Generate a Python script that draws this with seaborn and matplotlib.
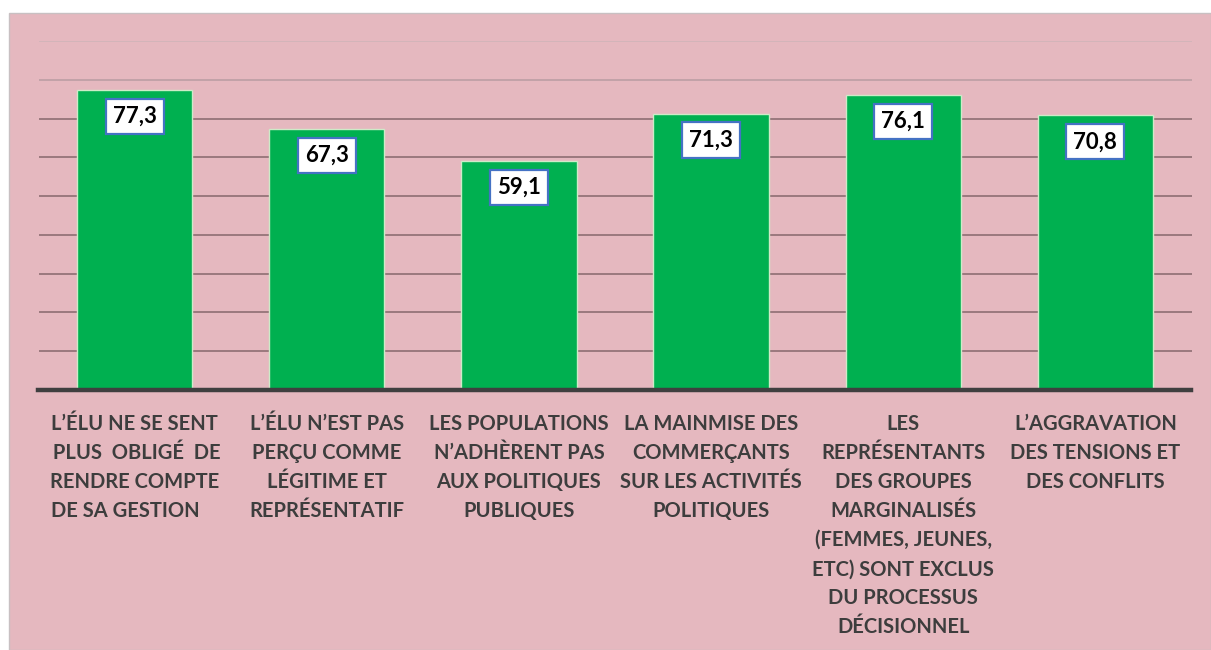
import matplotlib
matplotlib.use("Agg")
import matplotlib.pyplot as plt
import matplotlib.patches as mpatches
import seaborn as sns
import pandas as pd

categories = [
    "L’ÉLU NE SE SENT\n PLUS  OBLIGÉ  DE\nRENDRE COMPTE\nDE SA GESTION    ",
    "L’ÉLU N’EST PAS\nPERÇU COMME\nLÉGITIME ET\nREPRÉSENTATIF",
    "LES POPULATIONS\nN’ADHÈRENT PAS\nAUX POLITIQUES\nPUBLIQUES",
    "LA MAINMISE DES\nCOMMERÇANTS\nSUR LES ACTIVITÉS\nPOLITIQUES",
    "LES\nREPRÉSENTANTS\nDES GROUPES\nMARGINALISÉS\n(FEMMES, JEUNES,\nETC) SONT EXCLUS\nDU PROCESSUS\nDÉCISIONNEL",
    "L’AGGRAVATION\nDES TENSIONS ET\nDES CONFLITS",
]
values = [77.3, 67.3, 59.1, 71.3, 76.1, 70.8]
value_labels = ["77,3", "67,3", "59,1", "71,3", "76,1", "70,8"]
yticks = [0, 10, 20, 30, 40, 50, 60, 70, 80, 90]

sns.set_theme(style="white")
plt.rcParams["font.family"] = ["Lato", "DejaVu Sans"]

W, H = 1211, 650
fig = plt.figure(figsize=(W / 100, H / 100), dpi=100, facecolor="white")

# pink background panel
bg = mpatches.Rectangle((9 / W, 0), 1 - 9 / W, (H - 13) / H, transform=fig.transFigure,
                        facecolor="#E5B8BF", edgecolor="#C8C0C2", linewidth=1.0, zorder=-10)
fig.patches.append(bg)

ax = fig.add_axes([38.5 / W, (H - 390) / H, 1153 / W, (390 - 41) / H])
ax.set_facecolor("none")
ax.set_zorder(1)

df = pd.DataFrame({"cat": categories, "val": values})
sns.barplot(data=df, x="cat", y="val", color="#00B050", width=0.6, saturation=1,
            edgecolor="#CDEBC8", linewidth=1.0, ax=ax, zorder=3)

ax.set_ylim(0, 90)
ax.set_yticks(yticks)
ax.set_yticklabels([])
ax.tick_params(axis="y", length=0)
ax.tick_params(axis="x", length=0, pad=17)
ax.set_xlim(-0.5, len(categories) - 0.5)
ax.yaxis.grid(True, color="#957479", linewidth=1.3, zorder=1)
ax.set_axisbelow(True)
for gl, t in zip(ax.get_ygridlines(), yticks):
    if t == 90:
        gl.set_color("#D2B4B9")
    elif t == 80:
        gl.set_color("#BFA0A6")
    if t == 0:
        gl.set_visible(False)

for s in ["left", "right", "top"]:
    ax.spines[s].set_visible(False)
ax.spines["bottom"].set_color("#3F3F3F")
ax.spines["bottom"].set_linewidth(3.2)
ax.spines["bottom"].set_zorder(5)

ax.set_xlabel("")
ax.set_ylabel("")
for lab in ax.get_xticklabels():
    lab.set_fontsize(14.5)
    lab.set_fontweight("bold")
    lab.set_color("#3D3D3D")
    lab.set_linespacing(1.57)
    lab.set_ha("center")
    lab.set_va("top")

for i, (v, t) in enumerate(zip(values, value_labels)):
    ax.annotate(t, xy=(i, v), xytext=(0, -19), textcoords="offset points",
                ha="center", va="center", fontsize=16, fontweight="bold", color="black",
                zorder=6,
                bbox=dict(boxstyle="square,pad=0.32", facecolor="white",
                          edgecolor="#4472C4", linewidth=1.6))

fig.savefig("out.png", dpi=100, facecolor="white")
